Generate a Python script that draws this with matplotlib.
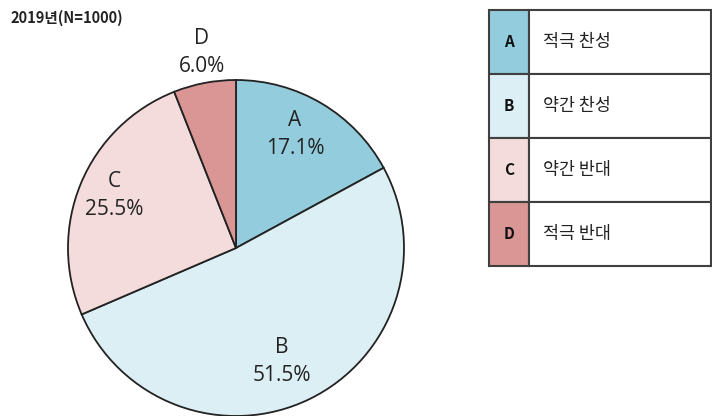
import matplotlib
matplotlib.use("Agg")
import matplotlib.pyplot as plt
import matplotlib.patches as mpatches
import numpy as np

plt.rcParams['font.family'] = ['Noto Sans CJK KR', 'DejaVu Sans']

# survey answers, 2019
title = "2019년(N=1000)"
codes = ["A", "B", "C", "D"]
answers = ["적극 찬성", "약간 찬성", "약간 반대", "적극 반대"]
shares = [17.1, 51.5, 25.5, 6.0]
colors = ["#93CDDD", "#DCEFF5", "#F3DCDB", "#D99694"]

# label placement: fraction of radius from the centre, and a small angle nudge (deg)
label_r = [0.76, 0.73, 0.79, 1.18]
label_nudge = [3.3, -4.1, -0.7, -0.9]

W, H = 712, 416
fig = plt.figure(figsize=(W / 100, H / 100), dpi=100)

# pie: centre (236, 248) px, radius 168 px
cx, cy, r = 236, 248, 168
ax = fig.add_axes([(cx - r) / W, (H - cy - r) / H, 2 * r / W, 2 * r / H])
wedges, _ = ax.pie(shares, colors=colors, startangle=90, counterclock=False,
                   radius=1.0, wedgeprops=dict(edgecolor="#222222", linewidth=1.3))
ax.set_xlim(-1.0, 1.0)
ax.set_ylim(-1.0, 1.0)
ax.set_aspect("equal")
ax.axis("off")
for w, code, val, lr, nd in zip(wedges, codes, shares, label_r, label_nudge):
    mid = np.deg2rad((w.theta1 + w.theta2) / 2 + nd)
    ax.text(lr * np.cos(mid), lr * np.sin(mid), f"{code}\n{val:.1f}%",
            ha="center", va="center", fontsize=15, linespacing=1.45,
            family=["Open Sans"], color="#222222")

# overlay in pixel coords for the title and the legend table
ov = fig.add_axes([0, 0, 1, 1], facecolor="none")
ov.set_xlim(0, W)
ov.set_ylim(H, 0)
ov.axis("off")

ov.text(10, 18, title, fontsize=10.5, fontweight="bold", ha="left", va="center",
        color="#222222")

tx0, tx1, ty0, row_h, key_w = 489, 711, 10, 64, 40
for i, (code, ans, col) in enumerate(zip(codes, answers, colors)):
    y = ty0 + i * row_h
    ov.add_patch(mpatches.Rectangle((tx0, y), key_w, row_h, facecolor=col,
                                    edgecolor="#404040", linewidth=1.5))
    ov.add_patch(mpatches.Rectangle((tx0 + key_w, y), tx1 - tx0 - key_w, row_h,
                                    facecolor="white", edgecolor="#404040", linewidth=1.5))
    ov.text(tx0 + key_w / 2, y + row_h / 2, code, ha="center", va="center",
            fontsize=11, fontweight="bold", color="#111111")
    ov.text(543, y + row_h / 2, ans, ha="left", va="center", fontsize=12.5,
            color="#222222")

fig.savefig("out.png", dpi=100)
